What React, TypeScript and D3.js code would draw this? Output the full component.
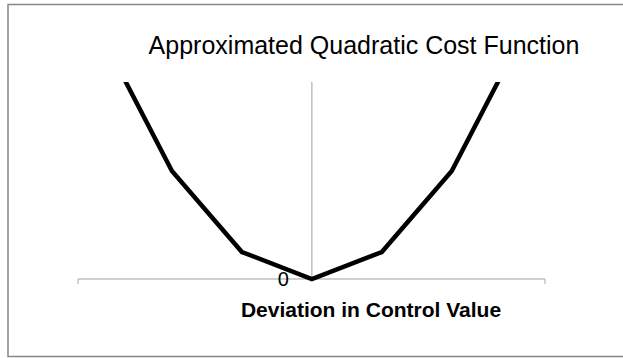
import React from "react";
import * as d3 from "d3";

// Piecewise-linear approximation of a quadratic cost, sampled at integer deviations
const deviations = [-3, -2, -1, 0, 1, 2, 3];
const costs = [9, 4, 1, 0, 1, 4, 9];

const titleText = "Approximated Quadratic Cost Function";
const xAxisTitle = "Deviation in Control Value";
const yTickLabels = ["0"];

const W = 623;
const H = 358;
const plot = { left: 78, right: 545, top: 82, bottom: 279 };

export default function App() {
  const x = d3.scaleLinear().domain([-3.343, 3.333]).range([plot.left, plot.right]);
  const y = d3.scaleLinear().domain([0, 7.3]).range([plot.bottom, plot.top]);

  const points = deviations.map((d, i) => [d, costs[i]] as [number, number]);
  const line = d3
    .line<[number, number]>()
    .x((d) => x(d[0]))
    .y((d) => y(d[1]));

  const font = "'Liberation Sans', Arial, sans-serif";
  const axisColor = "#bfbfbf";

  return (
    <div style={{ position: "absolute", left: 0, top: 0 }}>
      <svg width={W} height={H} style={{ display: "block", background: "#fff" }}>
        <defs>
          <clipPath id="plot-clip">
            <rect x={plot.left - 10} y={plot.top} width={plot.right - plot.left + 20} height={plot.bottom - plot.top + 10} />
          </clipPath>
        </defs>
        <rect x={8} y={4.5} width={W} height={352} fill="#fff" stroke="#868686" strokeWidth={1.5} />
        <text x={364} y={54} textAnchor="middle" fontFamily={font} fontSize={25} fill="#000">
          {titleText}
        </text>
        {/* horizontal category axis */}
        <line x1={x.range()[0]} x2={x.range()[1]} y1={y(0)} y2={y(0)} stroke={axisColor} strokeWidth={1.3} />
        {x.range().map((px, i) => (
          <line key={i} x1={px} x2={px} y1={y(0)} y2={y(0) + 5} stroke={axisColor} strokeWidth={1.3} />
        ))}
        {/* vertical value axis through zero */}
        <line x1={x(0)} x2={x(0)} y1={y.range()[1]} y2={y(0)} stroke={axisColor} strokeWidth={1.5} />
        {yTickLabels.map((t) => (
          <text key={t} x={x(0) - 23} y={y(+t) + 7} textAnchor="end" fontFamily={font} fontSize={20} fill="#000">
            {t}
          </text>
        ))}
        <g clipPath="url(#plot-clip)">
          <path d={line(points) ?? ""} fill="none" stroke="#000" strokeWidth={4.5} strokeLinejoin="miter" />
        </g>
        <text x={371} y={317} textAnchor="middle" fontFamily={font} fontSize={21} fontWeight="bold" fill="#000">
          {xAxisTitle}
        </text>
      </svg>
    </div>
  );
}
